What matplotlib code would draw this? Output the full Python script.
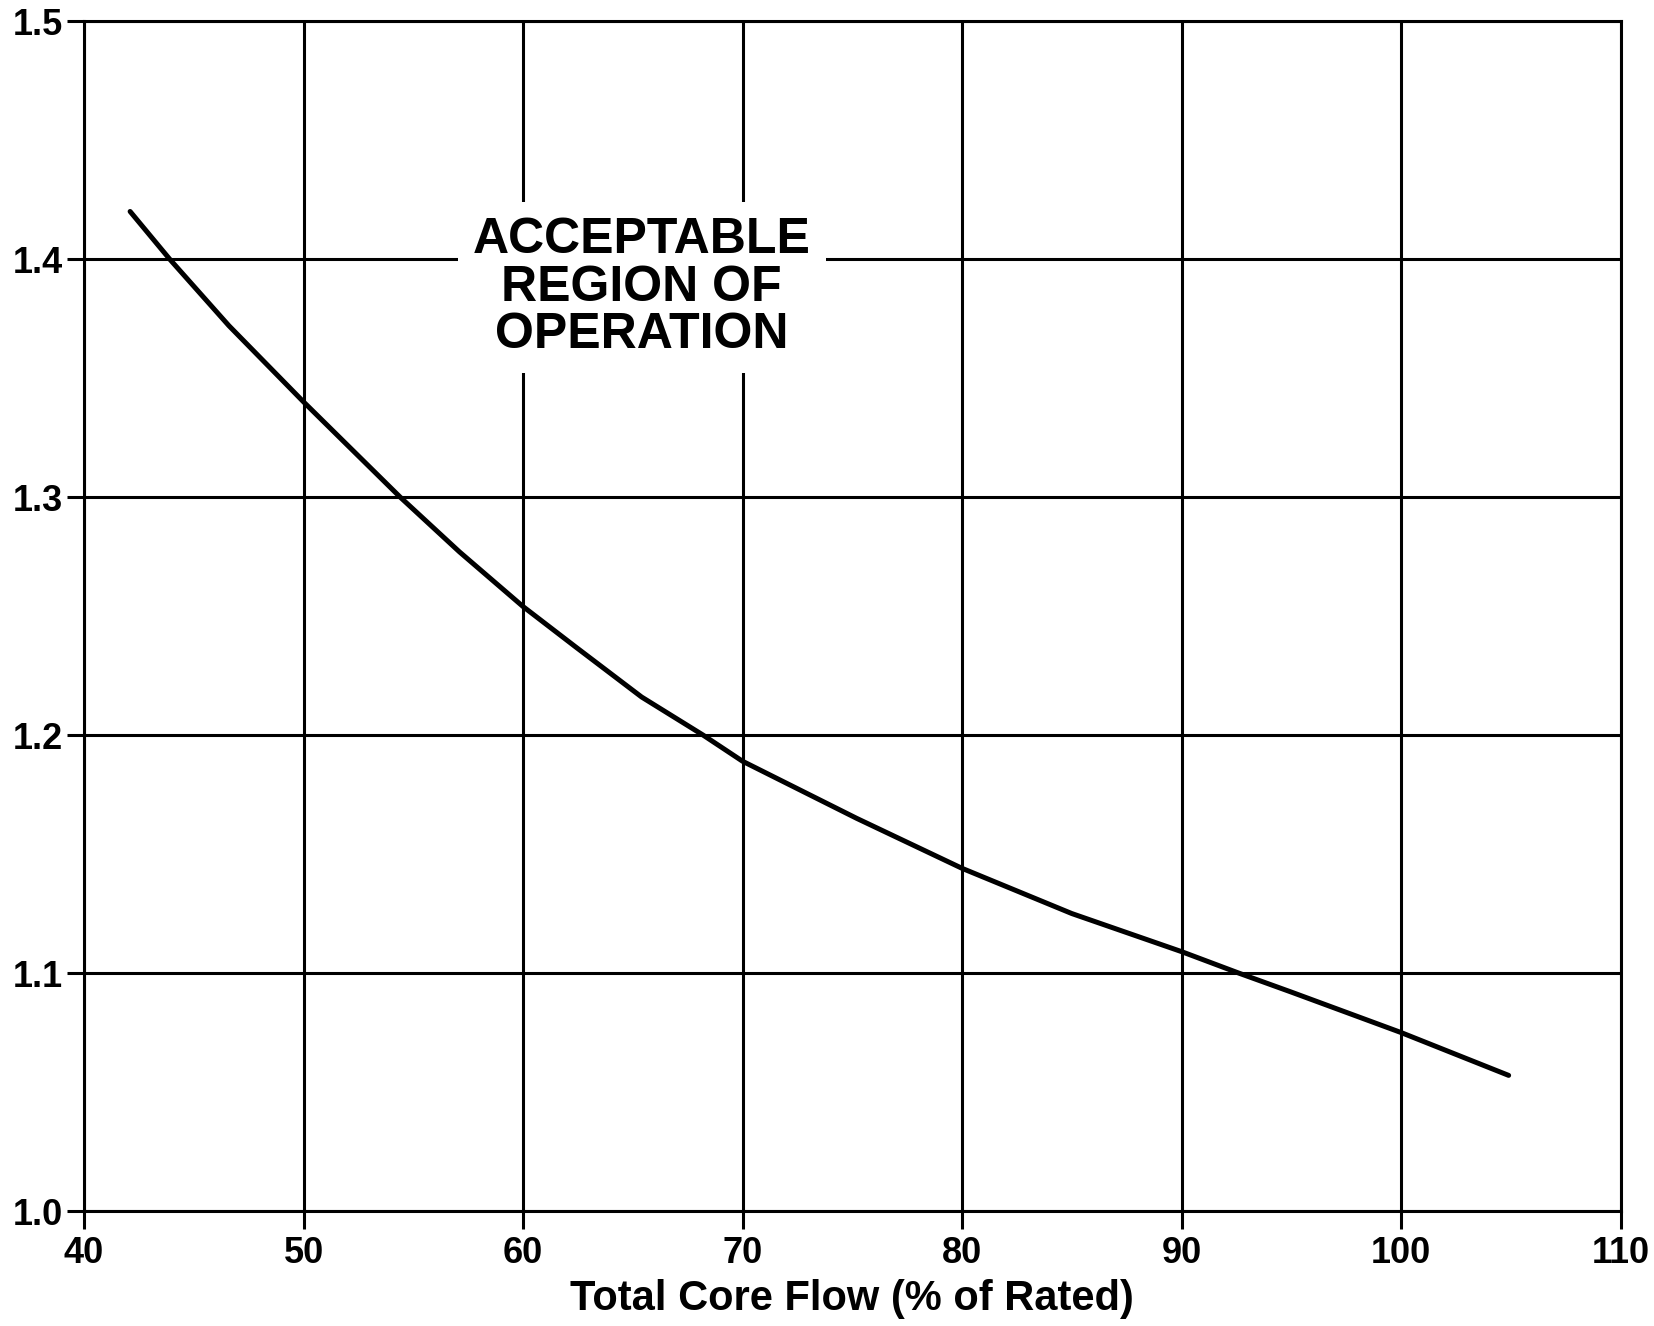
import numpy as np
import matplotlib.pyplot as plt

plt.rcParams['font.family'] = ['Liberation Sans', 'DejaVu Sans']

# curve (flow in % of rated, ratio)
flow = [42.1, 43.9, 46.6, 50.0, 54.4, 57.1, 60.0, 62.4, 65.4, 68.2, 70.0, 75.2, 80.0, 85.0, 90.0, 92.6, 95.0, 100.0, 104.9]
ratio = [1.420, 1.400, 1.372, 1.340, 1.300, 1.277, 1.254, 1.237, 1.216, 1.200, 1.189, 1.165, 1.144, 1.125, 1.109, 1.100, 1.092, 1.075, 1.057]

xticks = [40, 50, 60, 70, 80, 90, 100, 110]
yticks = [1.0, 1.1, 1.2, 1.3, 1.4, 1.5]
xlabel = "Total Core Flow (% of Rated)"
note = "ACCEPTABLE\nREGION OF\nOPERATION"

fig = plt.figure(figsize=(16.54, 13.26), dpi=100)
ax = fig.add_axes([0.0508, 0.0867, 0.929, 0.8974])

ax.set_xlim(40, 110)
ax.set_ylim(1.0, 1.5)
ax.set_xticks(xticks)
ax.set_yticks(yticks)
ax.set_xticklabels([str(v) for v in xticks], fontweight='bold')
ax.set_yticklabels([f"{v:.1f}" for v in yticks], fontweight='bold')

ax.grid(True, color='black', linewidth=2.2)
ax.set_axisbelow(True)
for s in ax.spines.values():
    s.set_linewidth(2.2)
    s.set_color('black')

ax.tick_params(axis='x', direction='out', length=13, width=2.2, pad=5, labelsize=26)
ax.tick_params(axis='y', direction='out', length=12, width=2.2, pad=3, labelsize=26)

ax.plot(flow, ratio, color='black', linewidth=3.6, solid_capstyle='round', zorder=3)

ax.text(65.4, 1.388, note, ha='center', va='center', fontsize=36, fontweight='bold',
        linespacing=1.05, color='black', zorder=4,
        bbox=dict(boxstyle='square,pad=0.3', facecolor='white', edgecolor='none'))

ax.set_xlabel(xlabel, fontsize=30, fontweight='bold', labelpad=6)

fig.savefig('out.png', dpi=100)
